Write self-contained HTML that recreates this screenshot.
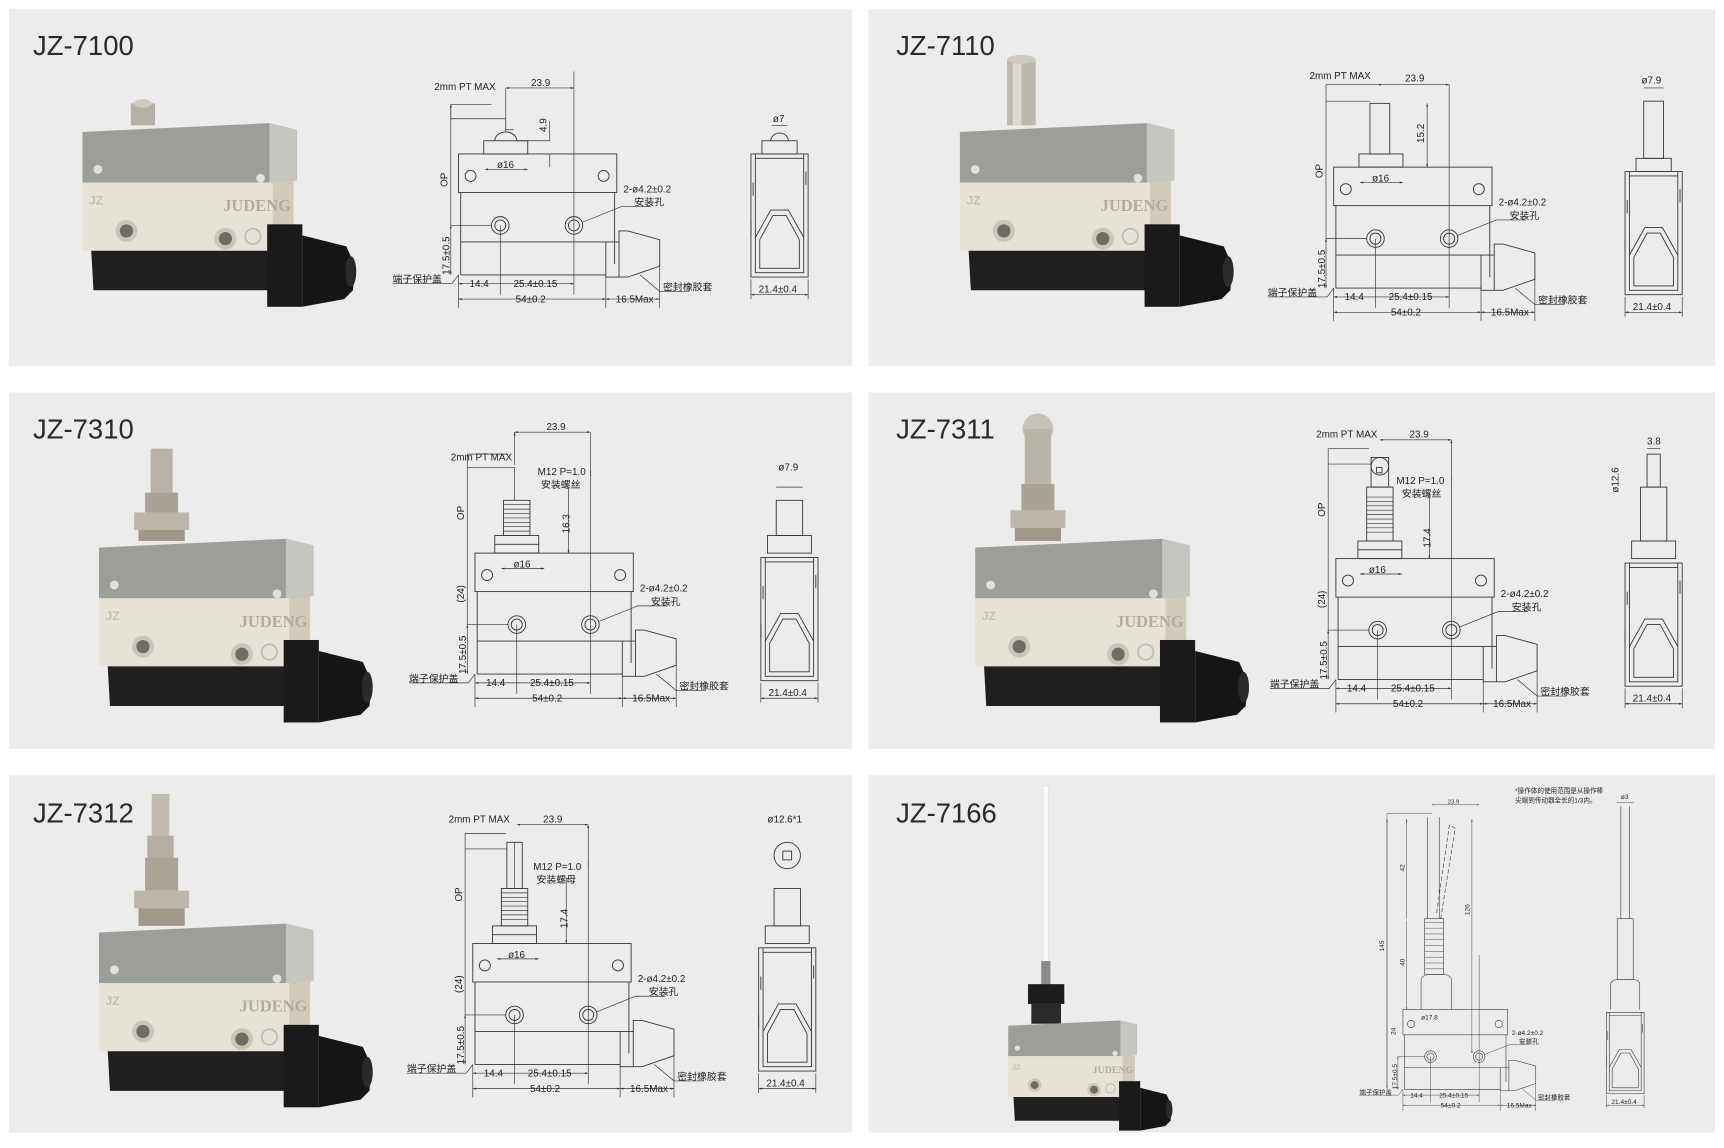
<!DOCTYPE html>
<html><head><meta charset="utf-8"><style>
html,body{margin:0;padding:0;background:#fff;}
svg{display:block;}
.t{font-family:"Liberation Sans","Noto Sans CJK SC",sans-serif;fill:#222;}
.ttl{font-family:"Liberation Sans",sans-serif;font-size:25px;fill:#2a2a2a;}
.d{font-family:"Liberation Sans","Noto Sans CJK SC",sans-serif;font-size:9px;fill:#222;}
.ln{stroke:#333;stroke-width:0.8;fill:none;}
.lt{stroke:#333;stroke-width:0.6;fill:none;}
</style></head><body>
<svg width="1724" height="1148" viewBox="0 0 1568 1044" preserveAspectRatio="none" xmlns="http://www.w3.org/2000/svg">
<defs>
<marker id="a" viewBox="0 0 10 10" refX="10" refY="5" markerWidth="5" markerHeight="5" orient="auto-start-reverse"><path d="M0,2L10,5L0,8z" fill="#333"/></marker>
<g id="photo">
  <polygon points="0,8 170,0 195,6 195,52 170,56 0,56" fill="#9c9e9a"/>
  <polygon points="170,0 195,6 195,52 170,56" fill="#c6c6c1"/>
  <rect x="0" y="54" width="173" height="62" fill="#e7e2d7"/>
  <polygon points="173,56 192,52 192,112 173,116" fill="#d2cbbb"/>
  <polygon points="8,116 175,116 177,152 10,152" fill="#1f1f1f"/>
  <rect x="168" y="92" width="32" height="75" fill="#1a1a1a"/>
  <polygon points="200,102 240,112 248,130 246,152 238,160 200,167" fill="#151515"/>
  <ellipse cx="244" cy="135" rx="5" ry="14" fill="#2a2a2a"/>
  <circle cx="14" cy="42" r="4" fill="#e2e0da"/>
  <circle cx="162" cy="50" r="4" fill="#e2e0da"/>
  <circle cx="40" cy="98" r="10" fill="#c9c5bb"/><circle cx="40" cy="98" r="6" fill="#6f6c66"/>
  <circle cx="130" cy="105" r="10" fill="#c9c5bb"/><circle cx="130" cy="105" r="6" fill="#6f6c66"/>
  <text x="6" y="74" style="font-family:'Liberation Sans',sans-serif;font-size:11px;font-weight:bold;fill:#c4bfb3">JZ</text>
  <text x="128" y="80" style="font-family:'Liberation Serif',serif;font-size:15px;font-weight:bold;fill:#b3ab9c">JUDENG</text>
  <circle cx="155" cy="103" r="7" fill="none" stroke="#bbb" stroke-width="1.5"/>
</g>
<g id="front">
  <rect class="ln" x="0" y="0" width="144" height="35"/>
  <circle class="ln" cx="11" cy="20" r="5"/><circle class="ln" cx="132" cy="20" r="5"/>
  <path class="ln" d="M2,35V110M142,35V100M2,80H134M2,110H134"/>
  <circle class="ln" cx="38" cy="65" r="8"/><circle class="ln" cx="38" cy="65" r="5"/>
  <circle class="ln" cx="105" cy="65" r="8"/><circle class="ln" cx="105" cy="65" r="5"/>
  <path class="ln" d="M134,80h12v32h-12zM146,100V70h8l29,8v24l-29,10h-8"/>
  <path class="lt" d="M0,110V140M38,65V128M105,-75V128M134,112V140M183,100V140M-7,65H30"/>
  <path class="lt" d="M0,118H38M38,118H105" marker-start="url(#a)" marker-end="url(#a)"/>
  <path class="lt" d="M0,132H134" marker-start="url(#a)" marker-end="url(#a)"/>
  <path class="lt" d="M134,132H183" marker-start="url(#a)" marker-end="url(#a)"/>
  <path class="lt" d="M-7,65V110" marker-start="url(#a)" marker-end="url(#a)"/>
  <path class="lt" d="M113,62L148,48H175"/>
  <path class="lt" d="M-60,118H-6L0,110"/>
  <path class="lt" d="M165,110L183,125H210"/>
  <g transform="translate(-8,90) rotate(-90)"><text class="d" x="-20" y="0">17.5±0.5</text></g>
  <text class="d" x="10" y="121">14.4</text>
  <text class="d" x="50" y="121">25.4±0.15</text>
  <text class="d" x="52" y="135">54±0.2</text>
  <text class="d" x="143" y="135">16.5Max</text>
  <text class="d" x="150" y="35">2-ø4.2±0.2</text>
  <text class="d" x="160" y="47">安装孔</text>
  <text class="d" x="-60" y="117">端子保护盖</text>
  <text class="d" x="186" y="124">密封橡胶套</text>
</g>
<g id="side">
  <path class="ln" d="M0,4h52v112h-52zM4,4V112h44V4"/>
  <path class="ln" d="M4,8h44M2,30v12M50,20v12M0,65v12"/>
  <path class="ln" d="M4,80L18,55H34L48,80M8,82L20,60H32L44,82M8,82V108H44V82"/>
  <path class="lt" d="M0,118V136M52,118V136"/>
  <path class="lt" d="M0,132H52" marker-start="url(#a)" marker-end="url(#a)"/>
  <text class="d" x="7" y="130">21.4±0.4</text>
</g>
</defs>

<rect width="1568" height="1044" fill="#fff"/>
<rect x="8" y="8" width="767" height="325" fill="#ececec"/>
<rect x="790" y="8" width="770" height="325" fill="#ececec"/>
<rect x="8" y="357" width="767" height="324" fill="#ececec"/>
<rect x="790" y="357" width="770" height="324" fill="#ececec"/>
<rect x="8" y="705" width="767" height="325" fill="#ececec"/>
<rect x="790" y="705" width="770" height="325" fill="#ececec"/>

<text class="ttl" x="30" y="50">JZ-7100</text>
<text class="ttl" x="815" y="50">JZ-7110</text>
<text class="ttl" x="30" y="399">JZ-7310</text>
<text class="ttl" x="815" y="399">JZ-7311</text>
<text class="ttl" x="30" y="748">JZ-7312</text>
<text class="ttl" x="815" y="748">JZ-7166</text>

<!-- Photos -->
<g transform="translate(75,112)"><rect x="44" y="-18" width="22" height="20" fill="#b5b1a8"/><ellipse cx="55" cy="-18" rx="8" ry="4" fill="#cfcbc2"/><use href="#photo"/></g>
<g transform="translate(873,112)"><rect x="43" y="-58" width="26" height="60" fill="#bdb8ae"/><rect x="48" y="-58" width="8" height="60" fill="#ddd9d0"/><ellipse cx="56" cy="-58" rx="13" ry="4" fill="#cfcbc2"/><use href="#photo"/></g>
<g transform="translate(90,490)"><rect x="47" y="-82" width="20" height="50" fill="#b8b3a8"/><rect x="42" y="-42" width="30" height="20" fill="#a9a296"/><rect x="32" y="-24" width="50" height="16" fill="#bdb7ab"/><rect x="36" y="-8" width="42" height="10" fill="#9f988c"/><use href="#photo"/></g>
<g transform="translate(887,490)"><circle cx="57" cy="-100" r="14" fill="#c7c2b8"/><rect x="45" y="-100" width="24" height="50" fill="#bab5ab"/><rect x="42" y="-50" width="30" height="26" fill="#a9a296"/><rect x="32" y="-26" width="50" height="16" fill="#bdb7ab"/><rect x="36" y="-10" width="42" height="12" fill="#9f988c"/><use href="#photo"/></g>
<g transform="translate(90,840)"><rect x="48" y="-118" width="16" height="40" fill="#c0bbb1"/><rect x="44" y="-80" width="24" height="22" fill="#b4aea3"/><rect x="42" y="-60" width="30" height="30" fill="#aaa396"/><rect x="32" y="-30" width="50" height="16" fill="#bdb7ab"/><rect x="36" y="-14" width="42" height="16" fill="#9f988c"/><use href="#photo"/></g>
<g transform="translate(917,928) scale(0.6)"><rect x="53" y="-355" width="8" height="280" fill="#fafafa" stroke="#ddd"/><rect x="50" y="-90" width="14" height="60" fill="#8a8a86"/><rect x="30" y="-55" width="55" height="30" fill="#1c1c1c"/><rect x="35" y="-25" width="45" height="30" fill="#2a2a2a"/><use href="#photo"/></g>

<!-- P1 drawing -->
<g transform="translate(417,140)"><use href="#front"/>
  <rect class="ln" x="23" y="-12" width="40" height="12"/><path class="ln" d="M33,-12a10,8 0 0 1 20,0"/>
  <path class="lt" d="M-7,65V-45M-7,-45H30M-7,-32H43M43,-30V-22M43,-22H50" /><path class="lt" d="M-7,-30V-45" marker-end="url(#a)"/>
  <path class="lt" d="M43,-60H105" marker-start="url(#a)" marker-end="url(#a)"/>
  <path class="lt" d="M43,-60V-20M53,-12H83M83,-30V-12M83,0V12"/>
  <path class="lt" d="M24,14H63" marker-start="url(#a)" marker-end="url(#a)"/>
  <text class="d" x="-22" y="-58">2mm PT MAX</text><text class="d" x="66" y="-62">23.9</text>
  <g transform="translate(80,-20) rotate(-90)"><text class="d" x="0" y="0">4.9</text></g>
  <text class="d" x="35" y="13">ø16</text>
  <g transform="translate(-10,30) rotate(-90)"><text class="d" x="0" y="0">OP</text></g>
</g>
<g transform="translate(683,136)"><use href="#side"/><rect class="ln" x="10" y="-8" width="32" height="12"/><path class="ln" d="M18,-8a8,7 0 0 1 16,0"/><path class="lt" d="M19,-22H33"/><text class="d" x="20" y="-25">ø7</text></g>

<!-- P2 drawing -->
<g transform="translate(1213,152)"><use href="#front"/>
  <rect class="ln" x="23" y="-12" width="40" height="12"/><rect class="ln" x="33" y="-58" width="18" height="46"/>
  <path class="lt" d="M-7,65V-75M-7,-75H40M-7,-60H33"/>
  <path class="lt" d="M40,-75H105" marker-start="url(#a)" marker-end="url(#a)"/>
  <path class="lt" d="M85,-58V0" marker-start="url(#a)" marker-end="url(#a)"/>
  <path class="lt" d="M24,14H63" marker-start="url(#a)" marker-end="url(#a)"/>
  <text class="d" x="-22" y="-80">2mm PT MAX</text><text class="d" x="65" y="-78">23.9</text>
  <g transform="translate(82,-22) rotate(-90)"><text class="d" x="0" y="0">15.2</text></g>
  <text class="d" x="35" y="13">ø16</text>
  <g transform="translate(-10,10) rotate(-90)"><text class="d" x="0" y="0">OP</text></g>
</g>
<g transform="translate(1478,152)"><use href="#side"/><rect class="ln" x="10" y="-8" width="32" height="12"/><rect class="ln" x="17" y="-60" width="18" height="52"/><path class="lt" d="M17,-72H35"/><text class="d" x="15" y="-76">ø7.9</text></g>

<!-- P3 drawing -->
<g transform="translate(432,503)"><use href="#front"/>
  <rect class="ln" x="18" y="-16" width="40" height="16"/><path class="ln" d="M18,-8H58"/><rect class="ln" x="26" y="-48" width="24" height="32"/><path class="lt" d="M26,-44H50M26,-40H50M26,-36H50M26,-32H50M26,-28H50M26,-24H50M26,-20H50"/>
  <path class="lt" d="M-7,65V-90M-7,-90H30M-7,-78H36M36,-78V-48"/>
  <path class="lt" d="M36,-110H105" marker-start="url(#a)" marker-end="url(#a)"/>
  <path class="lt" d="M36,-110V-80M105,-110V-70M85,-60V0" marker-start="url(#a)" marker-end="url(#a)"/>
  <path class="lt" d="M24,14H63" marker-start="url(#a)" marker-end="url(#a)"/>
  <text class="d" x="-22" y="-84">2mm PT MAX</text><text class="d" x="65" y="-112">23.9</text>
  <text class="d" x="57" y="-71">M12 P=1.0</text><text class="d" x="60" y="-59">安装螺丝</text>
  <g transform="translate(86,-18) rotate(-90)"><text class="d" x="0" y="0">16.3</text></g>
  <text class="d" x="35" y="13">ø16</text>
  <g transform="translate(-10,-30) rotate(-90)"><text class="d" x="0" y="0">OP</text></g>
  <g transform="translate(-10,45) rotate(-90)"><text class="d" x="0" y="0">(24)</text></g>
</g>
<g transform="translate(692,503)"><use href="#side"/><rect class="ln" x="6" y="-16" width="40" height="16"/><rect class="ln" x="14" y="-48" width="24" height="32"/><path class="lt" d="M14,-60H38"/><text class="d" x="16" y="-75">ø7.9</text></g>

<!-- P4 drawing -->
<g transform="translate(1215,508)"><use href="#front"/>
  <rect class="ln" x="20" y="-16" width="40" height="16"/><path class="ln" d="M20,-8H60"/><rect class="ln" x="28" y="-65" width="24" height="49"/><path class="lt" d="M28,-56H52M28,-52H52M28,-48H52M28,-44H52M28,-40H52M28,-36H52M28,-32H52M28,-28H52M28,-24H52"/>
  <rect class="ln" x="32" y="-92" width="16" height="27"/><circle class="ln" cx="40" cy="-84" r="8"/><rect class="ln" x="37" y="-83" width="5" height="5"/>
  <path class="lt" d="M-7,65V-100M-7,-100H30M-7,-86H32"/>
  <path class="lt" d="M40,-108H105" marker-start="url(#a)" marker-end="url(#a)"/>
  <path class="lt" d="M105,-108V-70M85,-60V0" marker-start="url(#a)" marker-end="url(#a)"/>
  <path class="lt" d="M22,14H60" marker-start="url(#a)" marker-end="url(#a)"/>
  <text class="d" x="-18" y="-110">2mm PT MAX</text><text class="d" x="67" y="-110">23.9</text>
  <text class="d" x="55" y="-68">M12 P=1.0</text><text class="d" x="60" y="-56">安装螺丝</text>
  <g transform="translate(86,-10) rotate(-90)"><text class="d" x="0" y="0">17.4</text></g>
  <text class="d" x="30" y="13">ø16</text>
  <g transform="translate(-10,-38) rotate(-90)"><text class="d" x="0" y="0">OP</text></g>
  <g transform="translate(-10,45) rotate(-90)"><text class="d" x="0" y="0">(24)</text></g>
</g>
<g transform="translate(1478,508)"><use href="#side"/><rect class="ln" x="6" y="-16" width="40" height="16"/><rect class="ln" x="14" y="-65" width="24" height="49"/><rect class="ln" x="20" y="-95" width="12" height="30"/><path class="lt" d="M20,-100H32"/><text class="d" x="20" y="-104">3.8</text><g transform="translate(-6,-60) rotate(-90)"><text class="d" x="0" y="0">ø12.6</text></g></g>

<!-- P5 drawing -->
<g transform="translate(430,858)"><use href="#front"/>
  <rect class="ln" x="18" y="-16" width="40" height="16"/><path class="ln" d="M18,-8H58"/><rect class="ln" x="26" y="-50" width="24" height="34"/><path class="lt" d="M26,-46H50M26,-42H50M26,-38H50M26,-34H50M26,-30H50M26,-26H50M26,-22H50"/>
  <rect class="ln" x="31" y="-92" width="14" height="42"/><path class="lt" d="M38,-92V-50"/>
  <path class="lt" d="M-7,65V-100M-7,-100H30M-7,-86H31"/>
  <path class="lt" d="M40,-108H105" marker-start="url(#a)" marker-end="url(#a)"/>
  <path class="lt" d="M105,-108V-70M85,-60V0" marker-start="url(#a)" marker-end="url(#a)"/>
  <path class="lt" d="M22,14H60" marker-start="url(#a)" marker-end="url(#a)"/>
  <text class="d" x="-22" y="-110">2mm PT MAX</text><text class="d" x="64" y="-110">23.9</text>
  <text class="d" x="55" y="-67">M12 P=1.0</text><text class="d" x="58" y="-55">安装螺母</text>
  <g transform="translate(86,-14) rotate(-90)"><text class="d" x="0" y="0">17.4</text></g>
  <text class="d" x="32" y="13">ø16</text>
  <g transform="translate(-10,-38) rotate(-90)"><text class="d" x="0" y="0">OP</text></g>
  <g transform="translate(-10,45) rotate(-90)"><text class="d" x="0" y="0">(24)</text></g>
</g>
<g transform="translate(690,858)"><use href="#side"/><rect class="ln" x="6" y="-16" width="40" height="16"/><rect class="ln" x="14" y="-50" width="24" height="34"/><circle class="ln" cx="26" cy="-80" r="12"/><rect class="ln" x="22" y="-84" width="8" height="8"/><text class="d" x="8" y="-110">ø12.6*1</text></g>

<!-- P6 drawing -->
<g transform="translate(1276,918) scale(0.66)">
  <use href="#front"/>
  <path class="ln" d="M25,0V-40a10,8 0 0 1 10,-8h22a10,8 0 0 1 10,8V0"/>
  <rect class="ln" x="30" y="-125" width="26" height="77"/>
  <path class="lt" d="M30,-120H56M30,-112H56M30,-104H56M30,-96H56M30,-88H56M30,-80H56M30,-72H56M30,-64H56M30,-56H56"/>
  <path class="ln" d="M34,-125V-265M50,-125V-265"/>
  <path class="ln" d="M52,-125L72,-250l-8,-4L46,-130" stroke-dasharray="6 3"/>
  <path class="lt" d="M-22,110V-270M-22,-270H40"/><path class="lt" d="M-22,-262V108" marker-start="url(#a)" marker-end="url(#a)"/>
  <path class="lt" d="M5,-262V-125M5,-122V0" marker-start="url(#a)" marker-end="url(#a)"/>
  <path class="lt" d="M95,-262V60" marker-start="url(#a)" marker-end="url(#a)"/>
  <path class="lt" d="M40,-282H105" marker-start="url(#a)" marker-end="url(#a)"/>
  <text class="d" x="62" y="-284" style="font-size:8px">23.9</text>
  <text class="d" x="25" y="14">ø17.8</text>
  <g transform="translate(-26,-80) rotate(-90)"><text class="d" x="0" y="0">145</text></g>
  <g transform="translate(2,-190) rotate(-90)"><text class="d" x="0" y="0">42</text></g>
  <g transform="translate(2,-60) rotate(-90)"><text class="d" x="0" y="0">40</text></g>
  <g transform="translate(92,-130) rotate(-90)"><text class="d" x="0" y="0">126</text></g>
  <g transform="translate(-10,35) rotate(-90)"><text class="d" x="0" y="0">24</text></g>
</g>
<text class="d" x="1378" y="721" style="font-size:6px">*操作体的使用范围是从操作棒</text>
<text class="d" x="1378" y="730" style="font-size:6px">尖端到传动器全长的1/3内。</text>
<g transform="translate(1461,918) scale(0.66)"><use href="#side"/>
  <path class="ln" d="M6,0V-35a8,6 0 0 1 8,-6h24a8,6 0 0 1 8,6V0"/><rect class="ln" x="15" y="-125" width="22" height="84"/><path class="ln" d="M20,-125V-280M32,-125V-280"/>
  <path class="lt" d="M14,-285H38"/><text class="d" x="20" y="-290">ø3</text>
</g>
</svg>
</body></html>
